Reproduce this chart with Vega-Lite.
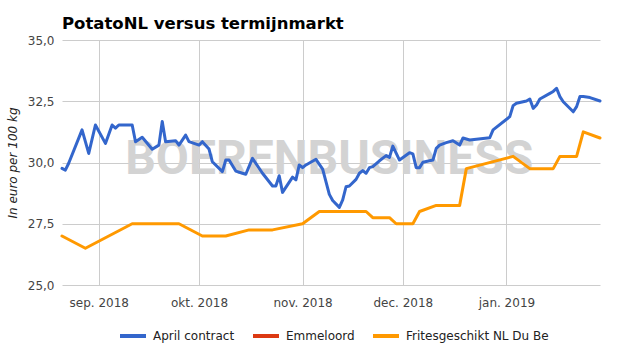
{
  "$schema": "https://vega.github.io/schema/vega-lite/v6.json",
  "width": 538,
  "height": 245,
  "autosize": {"type": "none"},
  "padding": {"left": 62, "top": 40, "right": 22, "bottom": 68},
  "background": "#ffffff",
  "title": {
    "text": "PotatoNL versus termijnmarkt",
    "anchor": "start",
    "frame": "group",
    "font": "DejaVu Sans",
    "fontSize": 16.5,
    "fontWeight": "bold",
    "color": "#000000",
    "baseline": "alphabetic",
    "offset": 13,
    "dy": 24
  },
  "config": {
    "view": {"stroke": null},
    "font": "DejaVu Sans",
    "axis": {
      "grid": true,
      "gridColor": "#cccccc",
      "gridWidth": 1,
      "domain": false,
      "ticks": false,
      "labelFont": "DejaVu Sans",
      "labelFontSize": 12,
      "labelColor": "#444444"
    }
  },
  "datasets": {
    "watermark": [
      {"date": "2018-11-09", "value": 30.1, "label": "BOERENBUSINESS"}
    ],
    "prices": [
      {"series": "April contract", "date": "2018-08-21", "value": 29.76},
      {"series": "April contract", "date": "2018-08-22", "value": 29.69},
      {"series": "April contract", "date": "2018-08-23", "value": 29.97},
      {"series": "April contract", "date": "2018-08-27", "value": 31.33},
      {"series": "April contract", "date": "2018-08-29", "value": 30.37},
      {"series": "April contract", "date": "2018-08-31", "value": 31.53},
      {"series": "April contract", "date": "2018-09-03", "value": 30.78},
      {"series": "April contract", "date": "2018-09-05", "value": 31.53},
      {"series": "April contract", "date": "2018-09-06", "value": 31.4},
      {"series": "April contract", "date": "2018-09-07", "value": 31.53},
      {"series": "April contract", "date": "2018-09-11", "value": 31.53},
      {"series": "April contract", "date": "2018-09-12", "value": 30.85},
      {"series": "April contract", "date": "2018-09-14", "value": 31.03},
      {"series": "April contract", "date": "2018-09-17", "value": 30.54},
      {"series": "April contract", "date": "2018-09-19", "value": 30.71},
      {"series": "April contract", "date": "2018-09-20", "value": 31.67},
      {"series": "April contract", "date": "2018-09-21", "value": 30.85},
      {"series": "April contract", "date": "2018-09-24", "value": 30.89},
      {"series": "April contract", "date": "2018-09-25", "value": 30.71},
      {"series": "April contract", "date": "2018-09-27", "value": 31.12},
      {"series": "April contract", "date": "2018-09-28", "value": 30.85},
      {"series": "April contract", "date": "2018-10-01", "value": 30.71},
      {"series": "April contract", "date": "2018-10-02", "value": 30.85},
      {"series": "April contract", "date": "2018-10-04", "value": 30.55},
      {"series": "April contract", "date": "2018-10-05", "value": 30.03},
      {"series": "April contract", "date": "2018-10-08", "value": 29.63},
      {"series": "April contract", "date": "2018-10-09", "value": 30.1},
      {"series": "April contract", "date": "2018-10-10", "value": 30.1},
      {"series": "April contract", "date": "2018-10-12", "value": 29.65},
      {"series": "April contract", "date": "2018-10-14", "value": 29.56},
      {"series": "April contract", "date": "2018-10-15", "value": 29.52},
      {"series": "April contract", "date": "2018-10-17", "value": 30.17},
      {"series": "April contract", "date": "2018-10-20", "value": 29.56},
      {"series": "April contract", "date": "2018-10-23", "value": 29.04},
      {"series": "April contract", "date": "2018-10-24", "value": 29.04},
      {"series": "April contract", "date": "2018-10-25", "value": 29.46},
      {"series": "April contract", "date": "2018-10-26", "value": 28.78},
      {"series": "April contract", "date": "2018-10-29", "value": 29.4},
      {"series": "April contract", "date": "2018-10-30", "value": 29.29},
      {"series": "April contract", "date": "2018-10-31", "value": 29.9},
      {"series": "April contract", "date": "2018-11-01", "value": 29.79},
      {"series": "April contract", "date": "2018-11-02", "value": 29.9},
      {"series": "April contract", "date": "2018-11-05", "value": 30.13},
      {"series": "April contract", "date": "2018-11-07", "value": 29.73},
      {"series": "April contract", "date": "2018-11-09", "value": 28.7},
      {"series": "April contract", "date": "2018-11-10", "value": 28.45},
      {"series": "April contract", "date": "2018-11-12", "value": 28.17},
      {"series": "April contract", "date": "2018-11-13", "value": 28.47},
      {"series": "April contract", "date": "2018-11-14", "value": 29.01},
      {"series": "April contract", "date": "2018-11-15", "value": 29.04},
      {"series": "April contract", "date": "2018-11-17", "value": 29.31},
      {"series": "April contract", "date": "2018-11-18", "value": 29.56},
      {"series": "April contract", "date": "2018-11-19", "value": 29.67},
      {"series": "April contract", "date": "2018-11-20", "value": 29.56},
      {"series": "April contract", "date": "2018-11-21", "value": 29.79},
      {"series": "April contract", "date": "2018-11-22", "value": 29.83},
      {"series": "April contract", "date": "2018-11-24", "value": 30.07},
      {"series": "April contract", "date": "2018-11-26", "value": 30.28},
      {"series": "April contract", "date": "2018-11-27", "value": 30.21},
      {"series": "April contract", "date": "2018-11-28", "value": 30.67},
      {"series": "April contract", "date": "2018-11-30", "value": 30.1},
      {"series": "April contract", "date": "2018-12-03", "value": 30.4},
      {"series": "April contract", "date": "2018-12-04", "value": 30.35},
      {"series": "April contract", "date": "2018-12-05", "value": 29.79},
      {"series": "April contract", "date": "2018-12-06", "value": 29.79},
      {"series": "April contract", "date": "2018-12-07", "value": 30.01},
      {"series": "April contract", "date": "2018-12-10", "value": 30.1},
      {"series": "April contract", "date": "2018-12-11", "value": 30.58},
      {"series": "April contract", "date": "2018-12-12", "value": 30.71},
      {"series": "April contract", "date": "2018-12-14", "value": 30.81},
      {"series": "April contract", "date": "2018-12-16", "value": 30.89},
      {"series": "April contract", "date": "2018-12-18", "value": 30.71},
      {"series": "April contract", "date": "2018-12-19", "value": 31.0},
      {"series": "April contract", "date": "2018-12-21", "value": 30.92},
      {"series": "April contract", "date": "2018-12-27", "value": 31.01},
      {"series": "April contract", "date": "2018-12-28", "value": 31.33},
      {"series": "April contract", "date": "2019-01-02", "value": 31.87},
      {"series": "April contract", "date": "2019-01-03", "value": 32.32},
      {"series": "April contract", "date": "2019-01-04", "value": 32.42},
      {"series": "April contract", "date": "2019-01-07", "value": 32.51},
      {"series": "April contract", "date": "2019-01-08", "value": 32.59},
      {"series": "April contract", "date": "2019-01-09", "value": 32.21},
      {"series": "April contract", "date": "2019-01-10", "value": 32.35},
      {"series": "April contract", "date": "2019-01-11", "value": 32.59},
      {"series": "April contract", "date": "2019-01-14", "value": 32.82},
      {"series": "April contract", "date": "2019-01-15", "value": 32.9},
      {"series": "April contract", "date": "2019-01-16", "value": 33.03},
      {"series": "April contract", "date": "2019-01-17", "value": 32.69},
      {"series": "April contract", "date": "2019-01-18", "value": 32.48},
      {"series": "April contract", "date": "2019-01-21", "value": 32.07},
      {"series": "April contract", "date": "2019-01-22", "value": 32.28},
      {"series": "April contract", "date": "2019-01-23", "value": 32.69},
      {"series": "April contract", "date": "2019-01-24", "value": 32.69},
      {"series": "April contract", "date": "2019-01-26", "value": 32.65},
      {"series": "April contract", "date": "2019-01-29", "value": 32.51},
      {"series": "Fritesgeschikt NL Du Be", "date": "2018-08-21", "value": 27.0},
      {"series": "Fritesgeschikt NL Du Be", "date": "2018-08-28", "value": 26.5},
      {"series": "Fritesgeschikt NL Du Be", "date": "2018-09-11", "value": 27.5},
      {"series": "Fritesgeschikt NL Du Be", "date": "2018-09-25", "value": 27.5},
      {"series": "Fritesgeschikt NL Du Be", "date": "2018-10-02", "value": 27.0},
      {"series": "Fritesgeschikt NL Du Be", "date": "2018-10-09", "value": 27.0},
      {"series": "Fritesgeschikt NL Du Be", "date": "2018-10-16", "value": 27.25},
      {"series": "Fritesgeschikt NL Du Be", "date": "2018-10-23", "value": 27.25},
      {"series": "Fritesgeschikt NL Du Be", "date": "2018-11-01", "value": 27.5},
      {"series": "Fritesgeschikt NL Du Be", "date": "2018-11-06", "value": 28.0},
      {"series": "Fritesgeschikt NL Du Be", "date": "2018-11-20", "value": 28.0},
      {"series": "Fritesgeschikt NL Du Be", "date": "2018-11-22", "value": 27.75},
      {"series": "Fritesgeschikt NL Du Be", "date": "2018-11-27", "value": 27.75},
      {"series": "Fritesgeschikt NL Du Be", "date": "2018-11-29", "value": 27.5},
      {"series": "Fritesgeschikt NL Du Be", "date": "2018-12-04", "value": 27.5},
      {"series": "Fritesgeschikt NL Du Be", "date": "2018-12-06", "value": 28.0},
      {"series": "Fritesgeschikt NL Du Be", "date": "2018-12-11", "value": 28.25},
      {"series": "Fritesgeschikt NL Du Be", "date": "2018-12-18", "value": 28.25},
      {"series": "Fritesgeschikt NL Du Be", "date": "2018-12-20", "value": 29.75},
      {"series": "Fritesgeschikt NL Du Be", "date": "2019-01-03", "value": 30.25},
      {"series": "Fritesgeschikt NL Du Be", "date": "2019-01-08", "value": 29.75},
      {"series": "Fritesgeschikt NL Du Be", "date": "2019-01-15", "value": 29.75},
      {"series": "Fritesgeschikt NL Du Be", "date": "2019-01-17", "value": 30.25},
      {"series": "Fritesgeschikt NL Du Be", "date": "2019-01-22", "value": 30.25},
      {"series": "Fritesgeschikt NL Du Be", "date": "2019-01-24", "value": 31.25},
      {"series": "Fritesgeschikt NL Du Be", "date": "2019-01-29", "value": 31.0}
    ]
  },
  "encoding": {
    "x": {
      "field": "date",
      "type": "temporal",
      "scale": {
        "type": "utc",
        "domain": [
          {"year": 2018, "month": 8, "date": 21, "utc": true},
          {"year": 2019, "month": 1, "date": 29, "utc": true}
        ]
      },
      "axis": {
        "title": null,
        "tickCount": {"interval": "month", "step": 1},
        "labelPadding": 12,
        "labelExpr": "['jan.','feb.','mrt.','apr.','mei','jun.','jul.','aug.','sep.','okt.','nov.','dec.'][utcmonth(datum.value)] + ' ' + utcyear(datum.value)"
      }
    },
    "y": {
      "field": "value",
      "type": "quantitative",
      "scale": {"domain": [25, 35], "nice": false, "zero": false},
      "axis": {
        "title": "In euro per 100 kg",
        "titleFont": "DejaVu Sans",
        "titleFontSize": 12,
        "titleFontStyle": "italic",
        "titleFontWeight": "normal",
        "titleColor": "#222222",
        "titlePadding": 8,
        "values": [25, 27.5, 30, 32.5, 35],
        "labelPadding": 8,
        "labelExpr": "replace(format(datum.value, '.1f'), '.', ',')"
      }
    }
  },
  "layer": [
    {
      "data": {"name": "watermark"},
      "mark": {
        "type": "text",
        "font": "Roboto",
        "fontWeight": "bold",
        "fontSize": 48,
        "color": "#d3d3d3",
        "align": "center",
        "baseline": "middle"
      },
      "encoding": {"text": {"field": "label"}}
    },
    {
      "data": {"name": "prices"},
      "mark": {"type": "line", "strokeWidth": 3, "strokeJoin": "round", "strokeCap": "round"},
      "encoding": {
        "color": {
          "field": "series",
          "type": "nominal",
          "scale": {
            "domain": ["April contract", "Emmeloord", "Fritesgeschikt NL Du Be"],
            "range": ["#3366cc", "#dc3912", "#ff9900"]
          },
          "legend": {
            "title": null,
            "orient": "none",
            "legendX": 56,
            "legendY": 281,
            "direction": "horizontal",
            "symbolType": "stroke",
            "symbolSize": 676,
            "symbolStrokeWidth": 4,
            "labelFont": "DejaVu Sans",
            "labelFontSize": 12,
            "labelColor": "#222222",
            "labelOffset": 5,
            "columnPadding": 10
          }
        }
      }
    }
  ]
}
